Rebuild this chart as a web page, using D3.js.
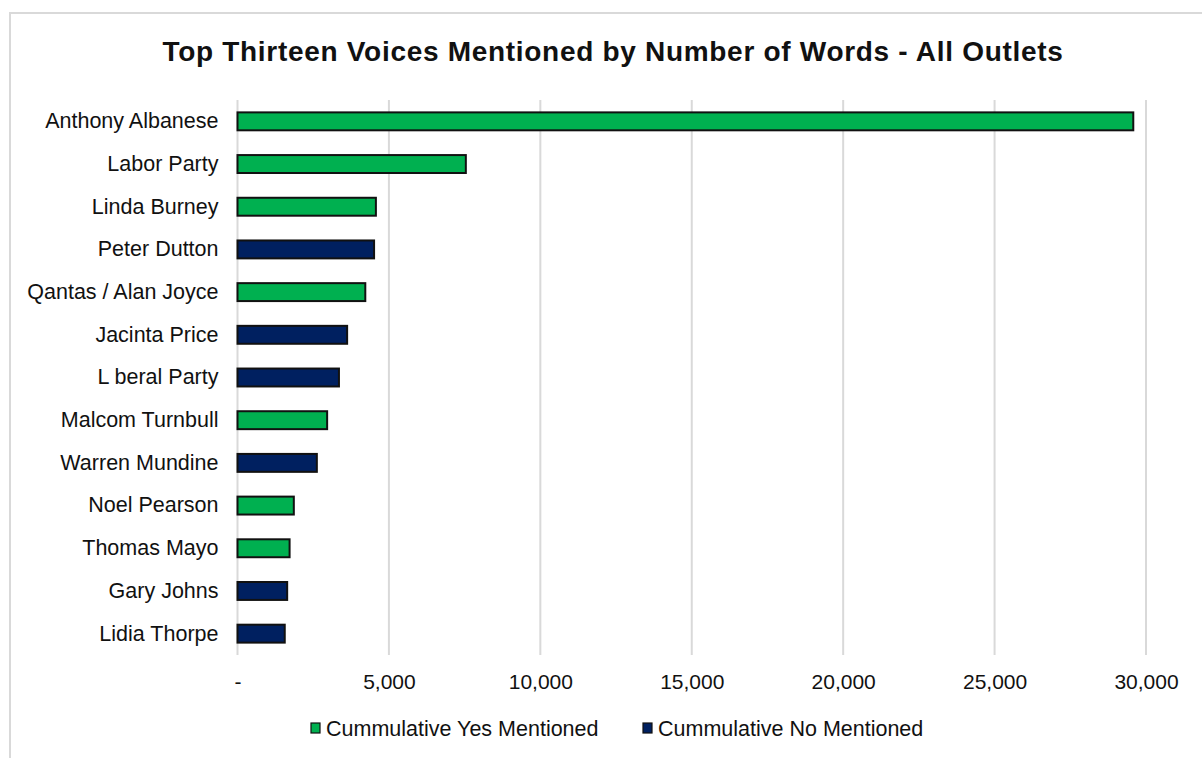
<!DOCTYPE html>
<html>
<head>
<meta charset="utf-8">
<script src="https://cdn.jsdelivr.net/npm/d3@7"></script>
<style>
  body { margin: 0; background: #fff; }
  text { font-family: "Liberation Sans", Arial, sans-serif; fill: #111; }
</style>
</head>
<body>
<div id="chart"></div>
<script>
// data
var names = ["Anthony Albanese", "Labor Party", "Linda Burney", "Peter Dutton", "Qantas / Alan Joyce",
  "Jacinta Price", "L beral Party", "Malcom Turnbull", "Warren Mundine", "Noel Pearson",
  "Thomas Mayo", "Gary Johns", "Lidia Thorpe"];
var words = [29580, 7540, 4570, 4510, 4220, 3620, 3350, 2960, 2620, 1860, 1720, 1640, 1560];
var side = ["yes", "yes", "yes", "no", "yes", "no", "no", "yes", "no", "yes", "yes", "no", "no"];
var seriesKeys = ["yes", "no"];
var seriesLabels = ["Cummulative Yes Mentioned", "Cummulative No Mentioned"];
var xTicks = [0, 5000, 10000, 15000, 20000, 25000, 30000];
var title = "Top Thirteen Voices Mentioned by Number of Words - All Outlets";

var full_width = 1202, full_height = 758;
var plot = {left: 237.5, right: 1146, top: 100, bottom: 655};

var color = d3.scaleOrdinal().domain(seriesKeys).range(["#00b050", "#002060"]);
var fmt = d3.format(",");

var svg = d3.select("#chart").append("svg")
  .attr("width", full_width)
  .attr("height", full_height);

svg.append("rect").attr("width", full_width).attr("height", full_height).attr("fill", "#fff");

// outer frame (only left and top edges visible)
svg.append("path")
  .attr("d", "M10," + full_height + "V13H" + full_width)
  .attr("fill", "none")
  .attr("stroke", "#d9d9d9")
  .attr("stroke-width", 2);

var x = d3.scaleLinear().domain([0, 30000]).range([plot.left, plot.right]);
var y = d3.scaleBand().domain(names).range([plot.top, plot.bottom])
  .paddingInner(0.58).paddingOuter(0.29);

svg.append("text")
  .attr("x", 613).attr("y", 61)
  .attr("text-anchor", "middle")
  .attr("font-weight", "bold")
  .attr("font-size", 28)
  .attr("letter-spacing", 0.7)
  .attr("fill", "#000")
  .text(title);

// gridlines
svg.append("g").selectAll("line")
  .data(xTicks)
  .enter().append("line")
  .attr("x1", function(d) { return x(d); })
  .attr("x2", function(d) { return x(d); })
  .attr("y1", plot.top).attr("y2", plot.bottom)
  .attr("stroke", "#d9d9d9")
  .attr("stroke-width", 2);

// x axis labels
var xAxis = svg.append("g")
  .attr("transform", "translate(0," + (plot.bottom + 19) + ")")
  .call(d3.axisBottom(x).tickValues(xTicks).tickSize(0).tickPadding(0)
    .tickFormat(function(d) { return d === 0 ? "-" : fmt(d); }));
xAxis.select(".domain").remove();
xAxis.attr("font-family", null);
xAxis.selectAll("text")
  .attr("font-size", 21)
  .attr("fill", "#111")
  .attr("dy", "0.71em");

// y axis labels
var yAxis = svg.append("g")
  .attr("transform", "translate(" + (plot.left - 19) + ",0)")
  .call(d3.axisLeft(y).tickSize(0).tickPadding(0));
yAxis.select(".domain").remove();
yAxis.attr("font-family", null);
yAxis.selectAll("text")
  .attr("font-size", 21.5)
  .attr("fill", "#111");

// bars
svg.append("g").selectAll("rect")
  .data(names)
  .enter().append("rect")
  .attr("x", x(0))
  .attr("y", function(d) { return y(d); })
  .attr("width", function(d, i) { return x(words[i]) - x(0); })
  .attr("height", y.bandwidth())
  .attr("fill", function(d, i) { return color(side[i]); })
  .attr("stroke", "#111")
  .attr("stroke-width", 2);

// legend
var legendX = [311, 643];
var legend = svg.append("g").selectAll("g")
  .data(seriesKeys)
  .enter().append("g")
  .attr("transform", function(d, i) { return "translate(" + legendX[i] + ",728)"; });
legend.append("rect")
  .attr("x", 0).attr("y", -5)
  .attr("width", 9).attr("height", 10)
  .attr("fill", function(d) { return color(d); })
  .attr("stroke", "#111")
  .attr("stroke-width", 1.2);
legend.append("text")
  .attr("x", 15).attr("y", 0)
  .attr("dy", "0.35em")
  .attr("font-size", 21.5)
  .text(function(d, i) { return seriesLabels[i]; });
</script>
</body>
</html>
